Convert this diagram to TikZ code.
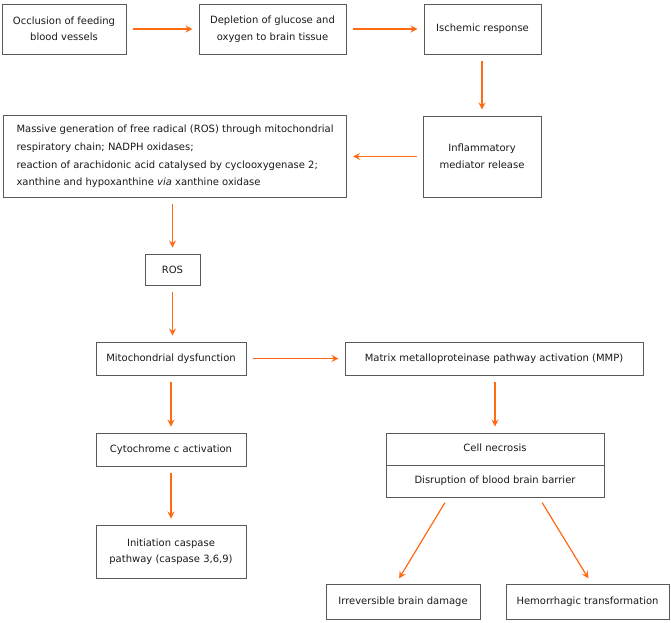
\documentclass[tikz,border=0pt]{standalone}
\usepackage{fontspec}
\setmainfont{DejaVu Sans}
\usepackage{tikz}
\usetikzlibrary{arrows.meta,positioning}
\definecolor{isink}{HTML}{1A1A1A}
\definecolor{isframe}{HTML}{5A5A5A}
\definecolor{isarrow}{HTML}{FF6A13}
\tikzset{
  isbox/.style={
    draw=isframe,
    line width=1pt,
    fill=white,
    align=center,
    inner sep=0pt,
    font=\fontsize{10}{16.5}\selectfont,
    text=isink
  },
  isflow/.style={
    -{Stealth[length=7pt,width=7pt,inset=2.5pt]},
    line width=1.2pt,
    color=isarrow,
    shorten <=6pt,
    shorten >=6pt
  }
}
\begin{document}
\begin{tikzpicture}[x=1pt,y=-1pt]
  \useasboundingbox (0,0) rectangle (671,622);

  % top row
  \node[isbox, minimum width=124pt, minimum height=50pt] (occl) at (64,29)
    {Occlusion of feeding\\blood vessels};
  \node[isbox, minimum width=147pt, minimum height=50pt] (deplete) at (272.5,29)
    {Depletion of glucose and\\oxygen to brain tissue};
  \node[isbox, minimum width=117pt, minimum height=50pt] (isch) at (482.5,29)
    {Ischemic response};

  % second row
  \node[isbox, minimum width=118pt, minimum height=81pt] (inflam) at (482,156.5)
    {Inflammatory\\mediator release};
  \node[isbox, align=left, anchor=west, inner xsep=13pt, minimum height=82pt,
    font=\fontsize{10}{17.6}\selectfont] (massive) at (3,156.5)
    {Massive generation of free radical (ROS) through mitochondrial\\
     respiratory chain; NADPH oxidases;\\
     reaction of arachidonic acid catalysed by cyclooxygenase 2;\\
     xanthine and hypoxanthine \textit{via} xanthine oxidase};

  \node[isbox, minimum width=55pt, minimum height=31pt] (ros) at (172.5,269.5) {ROS};

  % left branch
  \node[isbox, minimum width=150pt, minimum height=33pt] (mito) at (171,358.5)
    {Mitochondrial dysfunction};
  \node[isbox, minimum width=150pt, minimum height=33pt] (cyto) at (171,449.5)
    {Cytochrome c activation};
  \node[isbox, minimum width=150pt, minimum height=53pt] (casp) at (171,551.5)
    {Initiation caspase\\pathway (caspase 3,6,9)};

  % right branch
  \node[isbox, minimum width=298pt, minimum height=33pt] (mmp) at (494,358.5)
    {Matrix metalloproteinase pathway activation (MMP)};
  \node[isbox, minimum width=218pt, minimum height=64pt] (cell) at (495,465)
    {Cell necrosis\\[15.5pt]Disruption of blood brain barrier};
  \draw[draw=isframe, line width=1pt] (cell.west) -- (cell.east);

  \node[isbox, minimum width=154pt, minimum height=35pt] (irrev) at (403,601.5)
    {Irreversible brain damage};
  \node[isbox, minimum width=163pt, minimum height=35pt] (hemo) at (587.5,601.5)
    {Hemorrhagic transformation};

  \draw[isflow] (occl) -- (deplete);
  \draw[isflow] (deplete) -- (isch);
  \draw[isflow] (isch.south -| inflam.north) -- (inflam.north);
  \draw[isflow] (inflam.west) -- (massive.east |- inflam.west);
  \draw[isflow] (ros.north |- massive.south) -- (ros.north);
  \draw[isflow] (ros.south) -- (ros.south |- mito.north);
  \draw[isflow] (mito) -- (mmp);
  \draw[isflow] (mito) -- (cyto);
  \draw[isflow] (cyto) -- (casp);
  \draw[isflow] (mmp.south -| cell.north) -- (cell.north);
  \draw[isflow] ([xshift=-47pt]cell.south) -- ([xshift=-7pt]irrev.north);
  \draw[isflow] ([xshift=44pt]cell.south) -- ([xshift=4pt]hemo.north);
\end{tikzpicture}
\end{document}
